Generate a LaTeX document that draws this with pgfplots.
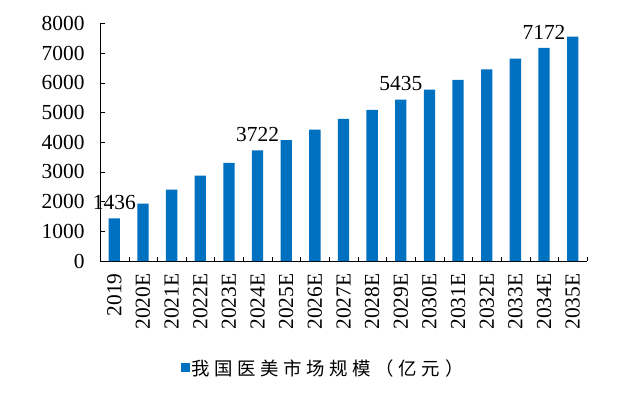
\documentclass[border=0pt]{standalone}
\usepackage{fontspec}
\setmainfont{Liberation Serif}
\newfontfamily\cjk[LetterSpace=25]{Noto Sans CJK SC}
\usepackage{pgfplots}
\pgfplotsset{compat=1.18}
\pgfplotsset{/pgf/number format/1000 sep={}}
\definecolor{barblue}{RGB}{0,112,192}
\begin{document}
\begin{tikzpicture}
\useasboundingbox (-100bp,-132bp) rectangle (532bp,261bp);
\begin{axis}[
  scale only axis, width=487bp, height=237.7bp,
  xmin=-0.5, xmax=16.5, ymin=0, ymax=8000,
  axis lines=left, axis line style={-, black},
  xtick={0,...,16},
  xticklabels={2019,2020E,2021E,2022E,2023E,2024E,2025E,2026E,2027E,2028E,2029E,2030E,2031E,2032E,2033E,2034E,2035E},
  major x tick style={draw=none},
  minor xtick={-0.5,0.5,...,16.5},
  tick align=inside, major tick length=4.5bp, minor tick length=4.5bp,
  tick style={black},
  ytick={0,1000,...,8000},
  scaled y ticks=false,
  /pgf/number format/assume math mode=true,
  yticklabel style={font=\fontsize{21.5}{21.5}\selectfont, xshift=-12bp},
  xticklabel style={yshift=-9bp, rotate=90, anchor=east, font=\fontsize{21.5}{21.5}\selectfont},
  legend style={at={(0.458,-0.45)}, anchor=center, draw=none, fill=none,
    font=\cjk\fontsize{18.5}{18.5}\selectfont},
  legend image code/.code={\fill[barblue] (0bp,-4.5bp) rectangle (9bp,4.5bp);},
  clip=false,
]
\addplot[ybar, bar width=11.3bp, fill=barblue, draw=none] coordinates {
(0,1436) (1,1930) (2,2400) (3,2870) (4,3300) (5,3722) (6,4070) (7,4420) (8,4780)
(9,5090) (10,5435) (11,5770) (12,6100) (13,6450) (14,6810) (15,7172) (16,7550)};
\addlegendentry{我国医美市场规模（亿元）}
\addplot[draw=none, mark=none, forget plot, nodes near coords, point meta=y,
  nodes near coords style={anchor=south, font=\fontsize{21.5}{21.5}\selectfont, yshift=5bp}]
  coordinates {(0,1436) (5,3722) (10,5435) (15,7172)};
\end{axis}
\end{tikzpicture}
\end{document}
